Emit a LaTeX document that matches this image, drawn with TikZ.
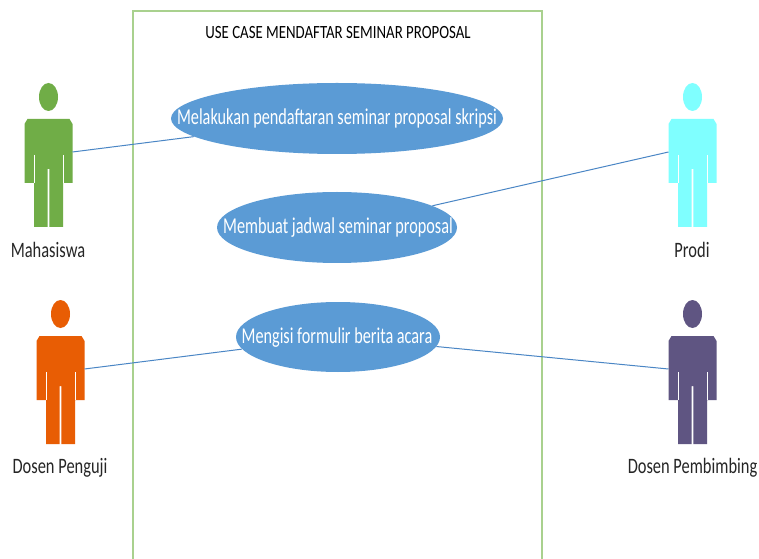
\documentclass[tikz,border=0pt]{standalone}
\usepackage{fontspec}
\setmainfont{Carlito}
\usetikzlibrary{shapes.geometric}
\definecolor{framegreen}{HTML}{A9D18E}
\definecolor{ucblue}{HTML}{5B9BD5}
\definecolor{linkblue}{HTML}{4A86C5}
\definecolor{actgreen}{HTML}{70AD47}
\definecolor{actcyan}{HTML}{7FFFFF}
\definecolor{actorange}{HTML}{E85D04}
\definecolor{actpurple}{HTML}{5F5582}
\tikzset{
  x=0.75pt,y=-0.75pt,
  usecase/.style={ellipse,fill=ucblue,inner sep=0pt},
  uctext/.style={inner sep=0pt,text=white,font=\fontsize{17}{20}\selectfont,xscale=0.716,transform shape},
  actorlabel/.style={inner sep=0pt,text=black!85,font=\fontsize{16.5}{20}\selectfont,xscale=0.747,transform shape},
  titlelabel/.style={inner sep=0pt,text=black,font=\fontsize{14}{17}\selectfont,xscale=0.795,transform shape},
  link/.style={draw=linkblue,line width=0.75pt},
  sysframe/.style={draw=framegreen,line width=0.9pt}
}
% #1 name, #2 centre x, #3 body top y, #4 colour
\newcommand{\actorfig}[4]{%
  \begin{scope}[shift={(#2,#3)}]
    \fill[#4] (0,-22) ellipse [x radius=9.5,y radius=14];
    \fill[#4] (-21,0) -- (21,0) -- (24,5) -- (24,64) -- (14.5,64) -- (14.5,36)
      -- (14.5,108) -- (0.8,108) -- (0.8,50) -- (-0.8,50) -- (-0.8,108) -- (-14.5,108)
      -- (-14.5,36) -- (-14.5,64) -- (-24,64) -- (-24,5) -- cycle;
    \draw[white,line width=0.6pt] (14.5,36) -- (14.5,64) (-14.5,36) -- (-14.5,64);
    \coordinate (#1-left) at (-24,33);
    \coordinate (#1-right) at (24,33);
  \end{scope}}
\begin{document}
\begin{tikzpicture}
\useasboundingbox (0,0) rectangle (759,559);
\fill[white] (0,0) rectangle (759,559);
\draw[sysframe] (133,559) -- (133,11) -- (542,11) -- (542,559);
\node[titlelabel] (title) at (338,33) {USE CASE MENDAFTAR SEMINAR PROPOSAL};

\actorfig{ma}{48.5}{119}{actgreen}
\actorfig{pr}{692.5}{119}{actcyan}
\actorfig{pe}{60.5}{336}{actorange}
\actorfig{pb}{692.5}{336}{actpurple}

\node[usecase,minimum width=249pt,minimum height=53.25pt] (uc1) at (337,118.5) {};
\node[uctext] (t1) at (337,118.5) {Melakukan pendaftaran seminar proposal skripsi};
\node[usecase,minimum width=180pt,minimum height=53.25pt] (uc2) at (337,227.5) {};
\node[uctext] (t2) at (338,227.5) {Membuat jadwal seminar proposal};
\node[usecase,minimum width=153pt,minimum height=52.5pt] (uc3) at (338,337) {};
\node[uctext] (t3) at (337,337.5) {Mengisi formulir berita acara};

\draw[link] (ma-right) -- (uc1);
\draw[link] (pr-left) -- (uc2);
\draw[link] (pe-right) -- (uc3);
\draw[link] (pb-left) -- (uc3);

\node[actorlabel] (lma) at (48,250) {Mahasiswa};
\node[actorlabel] (lpr) at (692,250) {Prodi};
\node[actorlabel] (lpe) at (60,467.5) {Dosen Penguji};
\node[actorlabel] (lpb) at (692.5,467.5) {Dosen Pembimbing};
\end{tikzpicture}
\end{document}
